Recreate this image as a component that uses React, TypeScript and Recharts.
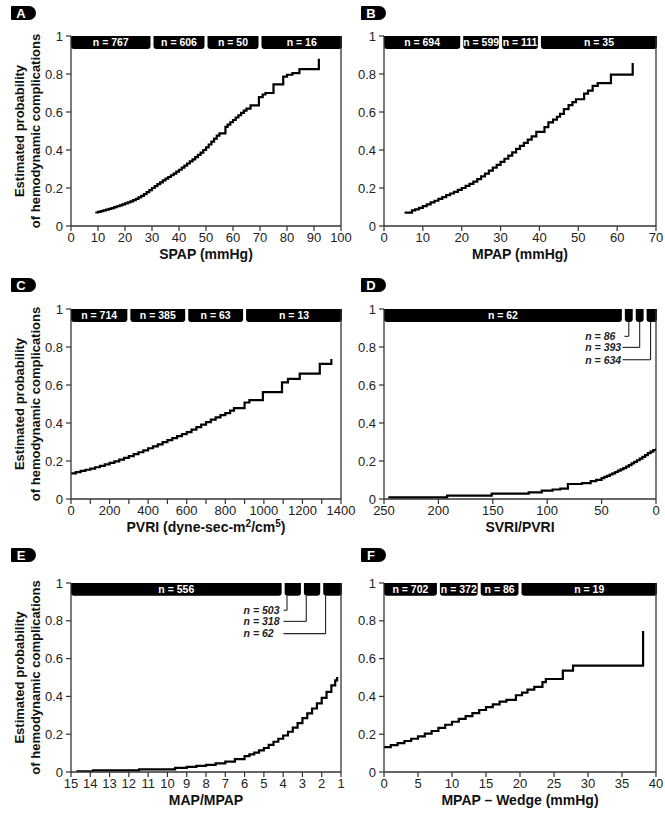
import React from 'react';
import { LineChart, Line, XAxis, YAxis, ReferenceArea, ReferenceLine, ReferenceDot } from 'recharts';

const FONT = '"Liberation Sans", Arial, Helvetica, sans-serif';

// Panel A: SPAP
const spapX = [9, 10, 11, 12, 13, 14, 15, 16, 17, 18, 19, 20, 21, 22, 23, 24, 25, 26, 27, 28, 29, 30, 31, 32, 33, 34, 35, 36, 37, 38, 39, 40, 41, 42, 43, 44, 45, 46, 47, 48, 49, 50, 51, 52, 53, 54, 55, 57.2, 58, 59, 60, 61, 62, 63, 64, 65, 66.5, 69.6, 71, 72, 75, 78.6, 80, 82, 84.6, 91.8];
const spapP = [0.071, 0.074, 0.078, 0.082, 0.086, 0.090, 0.094, 0.099, 0.104, 0.109, 0.114, 0.119, 0.124, 0.130, 0.136, 0.143, 0.151, 0.159, 0.168, 0.178, 0.189, 0.200, 0.210, 0.220, 0.230, 0.240, 0.249, 0.258, 0.267, 0.276, 0.286, 0.296, 0.307, 0.318, 0.329, 0.340, 0.351, 0.362, 0.374, 0.386, 0.400, 0.414, 0.429, 0.444, 0.460, 0.476, 0.488, 0.522, 0.534, 0.546, 0.558, 0.571, 0.583, 0.595, 0.607, 0.618, 0.635, 0.678, 0.692, 0.700, 0.745, 0.786, 0.796, 0.805, 0.826, 0.880];
const spapTicks = [0, 10, 20, 30, 40, 50, 60, 70, 80, 90, 100];
const spapBreaks = [0, 30, 50, 70, 100];
const spapN = ['n = 767', 'n = 606', 'n = 50', 'n = 16'];

// Panel B: MPAP
const mpapX = [5.3, 7.2, 8, 9, 10, 11, 12, 13, 14, 15, 16, 17, 18, 19, 20, 21, 22, 23, 24, 25, 26, 27, 28, 29, 30, 31, 32, 33, 34, 35, 36, 37, 38, 39.2, 41.3, 42.3, 43.5, 44.5, 45.3, 46.3, 47.5, 48.5, 49.4, 51.5, 52.5, 53.7, 55, 58.4, 64];
const mpapP = [0.070, 0.082, 0.088, 0.095, 0.105, 0.114, 0.124, 0.133, 0.143, 0.152, 0.162, 0.171, 0.180, 0.190, 0.200, 0.211, 0.222, 0.234, 0.247, 0.261, 0.276, 0.291, 0.307, 0.322, 0.338, 0.354, 0.370, 0.388, 0.406, 0.422, 0.438, 0.455, 0.472, 0.495, 0.520, 0.545, 0.560, 0.575, 0.590, 0.615, 0.636, 0.652, 0.667, 0.697, 0.712, 0.737, 0.752, 0.797, 0.858];
const mpapTicks = [0, 10, 20, 30, 40, 50, 60, 70];
const mpapBreaks = [0, 20, 30, 40, 70];
const mpapN = ['n = 694', 'n = 599', 'n = 111', 'n = 35'];

// Panel C: PVRI
const pvriX = [0, 25, 50, 75, 100, 125, 150, 175, 200, 225, 250, 275, 300, 325, 350, 375, 400, 425, 450, 475, 500, 525, 550, 575, 600, 625, 650, 675, 700, 725, 750, 775, 800, 825, 845, 900, 925, 995, 1094, 1125, 1186, 1290, 1350];
const pvriP = [0.135, 0.141, 0.148, 0.154, 0.160, 0.167, 0.174, 0.182, 0.190, 0.198, 0.207, 0.216, 0.226, 0.236, 0.246, 0.256, 0.267, 0.277, 0.288, 0.299, 0.310, 0.320, 0.331, 0.341, 0.352, 0.365, 0.378, 0.391, 0.405, 0.418, 0.430, 0.441, 0.452, 0.465, 0.478, 0.508, 0.520, 0.563, 0.614, 0.632, 0.660, 0.711, 0.737];
const pvriTicks = [0, 100, 200, 300, 400, 500, 600, 700, 800, 900, 1000, 1100, 1200, 1300, 1400];
const pvriBreaks = [0, 300, 600, 900, 1400];
const pvriN = ['n = 714', 'n = 385', 'n = 63', 'n = 13'];

// Panel D: SVRI/PVRI (axis runs 250 -> 0)
const svriX = [246, 192, 151, 117, 105, 95, 88, 81, 68, 60, 55, 50, 47.5, 45, 42.5, 40, 37.5, 35, 32.5, 30, 27.5, 25, 22.5, 20, 17.5, 15, 12.5, 10, 7.5, 5, 2.5, 0];
const svriP = [0.009, 0.018, 0.028, 0.035, 0.044, 0.050, 0.055, 0.079, 0.084, 0.094, 0.101, 0.110, 0.116, 0.122, 0.129, 0.135, 0.142, 0.149, 0.156, 0.163, 0.170, 0.178, 0.187, 0.195, 0.204, 0.213, 0.222, 0.231, 0.241, 0.249, 0.258, 0.266];
const svriTicks = [0, 50, 100, 150, 200, 250];
const svriBreaks = [250, 30, 20, 10, 0];
const svriN = ['n = 62', '', '', ''];
const svriCallN = ['n = 86', 'n = 393', 'n = 634'];

// Panel E: MAP/MPAP (axis runs 15 -> 1)
const mapX = [14.72, 13.86, 11.47, 9.6, 9, 8.5, 8, 7.5, 7, 6.5, 6, 5.75, 5.5, 5.25, 5, 4.75, 4.5, 4.25, 4, 3.75, 3.5, 3.25, 3, 2.75, 2.5, 2.25, 2, 1.75, 1.5, 1.3, 1.2];
const mapP = [0.004, 0.009, 0.014, 0.022, 0.027, 0.032, 0.038, 0.046, 0.055, 0.068, 0.084, 0.093, 0.103, 0.114, 0.127, 0.143, 0.160, 0.176, 0.193, 0.213, 0.235, 0.259, 0.285, 0.310, 0.336, 0.363, 0.392, 0.424, 0.458, 0.485, 0.502];
const mapTicks = [1, 2, 3, 4, 5, 6, 7, 8, 9, 10, 11, 12, 13, 14, 15];
const mapBreaks = [15, 4, 3, 2, 1];
const mapN = ['n = 556', '', '', ''];
const mapCallN = ['n = 503', 'n = 318', 'n = 62'];

// Panel F: MPAP - Wedge
const wedgeX = [0, 1, 2, 3, 4, 5, 6, 7, 8, 9, 10, 11, 12, 13, 14, 15, 16, 17, 18, 19.4, 20.3, 21.1, 22.1, 23.3, 23.8, 26.3, 27.8, 38.1];
const wedgeP = [0.132, 0.142, 0.153, 0.164, 0.176, 0.189, 0.203, 0.217, 0.233, 0.250, 0.266, 0.281, 0.296, 0.312, 0.328, 0.343, 0.358, 0.372, 0.382, 0.406, 0.420, 0.436, 0.450, 0.476, 0.492, 0.536, 0.563, 0.746];
const wedgeTicks = [0, 5, 10, 15, 20, 25, 30, 35, 40];
const wedgeBreaks = [0, 8, 14, 20, 40];
const wedgeN = ['n = 702', 'n = 372', 'n = 86', 'n = 19'];

const yTicks = [0, 0.2, 0.4, 0.6, 0.8, 1];
const BAR_BOTTOM = 0.932;

type Callouts = {
  labels: string[];
  lineX: number[];
  rowY: number[];
  from: number[];
  textX: number;
};

type PanelProps = {
  left: number;
  top: number;
  width: number;
  height: number;
  mLeft: number;
  mRight: number;
  xs: number[];
  ps: number[];
  domain: [number, number];
  ticks: number[];
  reversed?: boolean;
  tickFmt?: (v: number) => string;
  breaks: number[];
  nLabels: string[];
  callouts?: Callouts;
  xTitle: React.ReactNode;
  yTitle?: boolean;
};

// black header segment with rounded lower corners
const barShape = (label: string, padL: number, padR: number) => (p: any) => {
  const x0 = p.x + padL;
  const x1 = p.x + p.width - padR;
  const y0 = p.y;
  const y1 = p.y + p.height;
  const r = 3;
  const d = `M${x0},${y0} H${x1} V${y1 - r} Q${x1},${y1} ${x1 - r},${y1} H${x0 + r} Q${x0},${y1} ${x0},${y1 - r} Z`;
  return (
    <g>
      <path d={d} fill="#000" />
      {label ? (
        <text x={(x0 + x1) / 2} y={(y0 + y1) / 2 + 3.8} textAnchor="middle" fill="#fff"
          fontFamily={FONT} fontWeight="bold" fontSize={10.5}>{label}</text>
      ) : null}
    </g>
  );
};

const renderYTitle = (props: any) => {
  const vb = props.viewBox;
  const cy = vb.y + vb.height / 2;
  return (
    <g fontFamily={FONT} fontWeight="bold" fontSize={13} fill="#111">
      <text x={23.5} y={cy} textAnchor="middle" transform={`rotate(-90 23.5 ${cy})`}>Estimated probability</text>
      <text x={39.5} y={cy} textAnchor="middle" transform={`rotate(-90 39.5 ${cy})`}>of hemodynamic complications</text>
    </g>
  );
};

const renderXTitle = (title: React.ReactNode) => (props: any) => {
  const vb = props.viewBox;
  return (
    <text x={vb.x + vb.width / 2} y={vb.y + 33} textAnchor="middle" fontFamily={FONT}
      fontWeight="bold" fontSize={14} fill="#111">{title}</text>
  );
};

function Panel(props: PanelProps) {
  const { left, top, width, height, mLeft, mRight, xs, ps, domain, ticks, reversed, tickFmt, breaks, nLabels, callouts, xTitle, yTitle } = props;
  const data = xs.map((x, i) => ({ x, p: ps[i] }));
  const edge = reversed ? domain[0] : domain[1];
  const refs: React.ReactNode[] = [];
  if (callouts) {
    callouts.labels.forEach((lab, i) => {
      const lx = callouts.lineX[i];
      const ry = callouts.rowY[i];
      refs.push(<ReferenceLine key={'v' + i} segment={[{ x: lx, y: BAR_BOTTOM }, { x: lx, y: ry }]} stroke="#222" strokeWidth={1.1} />);
      refs.push(<ReferenceLine key={'h' + i} segment={[{ x: callouts.from[i], y: ry }, { x: lx, y: ry }]} stroke="#222" strokeWidth={1.1} />);
      refs.push(
        <ReferenceDot key={'t' + i} x={callouts.textX} y={ry}
          shape={(p: any) => (
            <text x={p.cx} y={p.cy + 3.8} fontFamily={FONT} fontWeight="bold" fontStyle="italic"
              fontSize={10.5} fill="#222">{lab}</text>
          )} />
      );
    });
  }
  return (
    <div style={{ position: 'absolute', left, top }}>
      <LineChart width={width} height={height} data={data} margin={{ top: 36, right: mRight, bottom: 0, left: mLeft }}>
        <XAxis type="number" dataKey="x" domain={domain} ticks={ticks} reversed={reversed} allowDataOverflow
          interval={0} height={44} tickSize={5} tickMargin={2}
          axisLine={{ stroke: '#333', strokeWidth: 1.3 }} tickLine={{ stroke: '#333', strokeWidth: 1.2 }}
          tick={{ fill: '#222', fontSize: 13, fontFamily: FONT }}
          tickFormatter={tickFmt || ((v: number) => String(v))}
          label={renderXTitle(xTitle)} />
        <YAxis type="number" domain={[0, 1]} ticks={yTicks} allowDataOverflow interval={0} width={31}
          tickSize={5} tickMargin={3}
          axisLine={{ stroke: '#333', strokeWidth: 1.3 }} tickLine={{ stroke: '#333', strokeWidth: 1.2 }}
          tick={{ fill: '#222', fontSize: 13, fontFamily: FONT }}
          tickFormatter={(v: number) => String(v)}
          label={yTitle ? renderYTitle : undefined} />
        <ReferenceLine x={edge} stroke="#333" strokeWidth={1.3} />
        {breaks.slice(0, -1).map((b, i) => (
          <ReferenceArea key={'bar' + i} x1={b} x2={breaks[i + 1]} y1={BAR_BOTTOM} y2={1}
            shape={barShape(nLabels[i], i === 0 ? 0 : 1.5, i === breaks.length - 2 ? -1 : 1.5)} />
        ))}
        {refs}
        <Line type="stepAfter" dataKey="p" stroke="#000" strokeWidth={2.2} dot={false} isAnimationActive={false} />
      </LineChart>
    </div>
  );
}

const Badge = ({ letter, left, top }: { letter: string; left: number; top: number }) => (
  <svg style={{ position: 'absolute', left, top }} width={26} height={14}>
    <path d="M1,0 H18 A7,7 0 0 1 18,14 H1 Q0,14 0,13 V1 Q0,0 1,0 Z" fill="#000" />
    <text x={10} y={11.8} textAnchor="middle" fill="#fff" fontWeight="bold" fontSize={13} fontFamily={FONT}>{letter}</text>
  </svg>
);

const pvriTitle = (
  <>
    PVRI (dyne-sec-m<tspan dy={-5} fontSize={10}>2</tspan><tspan dy={5}>/cm</tspan>
    <tspan dy={-5} fontSize={10}>5</tspan><tspan dy={5}>)</tspan>
  </>
);

export default function App() {
  const L = { left: 0, width: 362, mLeft: 40, mRight: 21 };
  const R = { left: 347, width: 317, mLeft: 6, mRight: 8 };
  return (
    <div style={{ position: 'absolute', left: 0, top: 0, width: 665, height: 817, background: '#fff', overflow: 'hidden' }}>
      <Panel {...L} top={0} height={270} xs={spapX} ps={spapP} domain={[0, 100]} ticks={spapTicks}
        breaks={spapBreaks} nLabels={spapN} xTitle="SPAP (mmHg)" yTitle />
      <Panel {...R} top={0} height={270} xs={mpapX} ps={mpapP} domain={[0, 70]} ticks={mpapTicks}
        breaks={mpapBreaks} nLabels={mpapN} xTitle="MPAP (mmHg)" />
      <Panel {...L} top={273} height={270} xs={pvriX} ps={pvriP} domain={[0, 1400]} ticks={pvriTicks}
        tickFmt={(v: number) => (v % 200 === 0 ? String(v) : '')}
        breaks={pvriBreaks} nLabels={pvriN} xTitle={pvriTitle} yTitle />
      <Panel {...R} top={273} height={270} xs={svriX} ps={svriP} domain={[0, 250]} ticks={svriTicks} reversed
        breaks={svriBreaks} nLabels={svriN} xTitle="SVRI/PVRI"
        callouts={{ labels: svriCallN, lineX: [25, 15, 5], rowY: [0.856, 0.798, 0.733], from: [29, 30.8, 30.8], textX: 65 }} />
      <Panel {...L} top={547} height={269} xs={mapX} ps={mapP} domain={[1, 15]} ticks={mapTicks} reversed
        breaks={mapBreaks} nLabels={mapN} xTitle="MAP/MPAP" yTitle
        callouts={{ labels: mapCallN, lineX: [3.8, 2.8, 1.8], rowY: [0.856, 0.797, 0.732], from: [3.98, 3.98, 3.98], textX: 6.05 }} />
      <Panel {...R} top={547} height={269} xs={wedgeX} ps={wedgeP} domain={[0, 40]} ticks={wedgeTicks}
        breaks={wedgeBreaks} nLabels={wedgeN} xTitle="MPAP – Wedge (mmHg)" />
      <Badge letter="A" left={11} top={6} />
      <Badge letter="B" left={361} top={6} />
      <Badge letter="C" left={11} top={278} />
      <Badge letter="D" left={361} top={278} />
      <Badge letter="E" left={11} top={548} />
      <Badge letter="F" left={361} top={548} />
    </div>
  );
}
